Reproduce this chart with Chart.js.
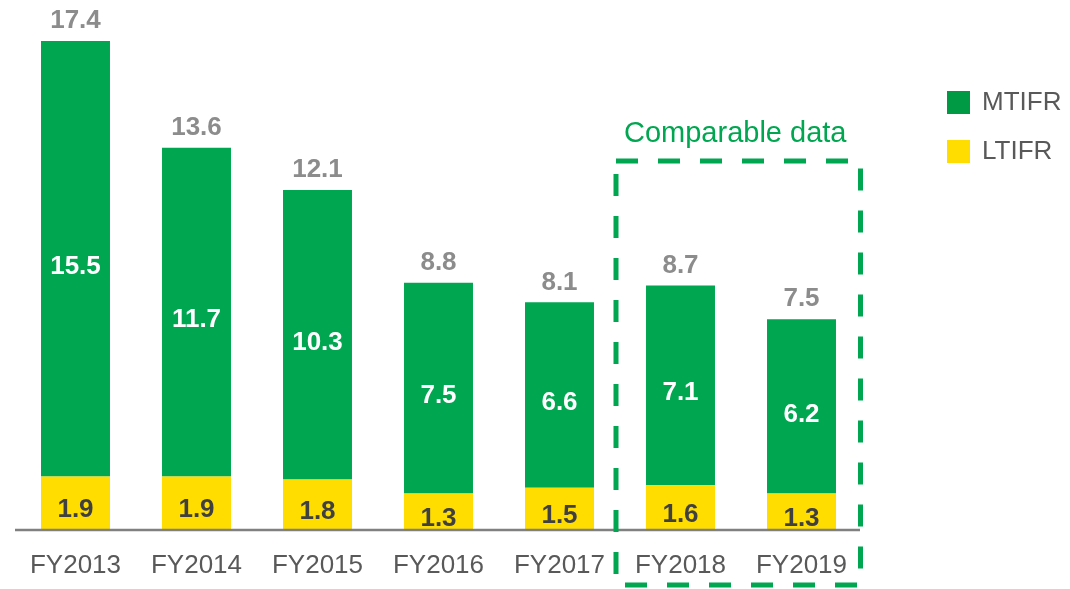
<!DOCTYPE html>
<html>
<head>
<meta charset="utf-8">
<script src="https://cdn.jsdelivr.net/npm/chart.js@4/dist/chart.umd.min.js"></script>
<style>
  html, body { margin: 0; padding: 0; background: #fff; }
  #wrap { width: 1070px; height: 589px; }
</style>
</head>
<body>
<div id="wrap"><canvas id="grafico"></canvas></div>
<script>
// dados do gráfico
const anos = ['FY2013', 'FY2014', 'FY2015', 'FY2016', 'FY2017', 'FY2018', 'FY2019'];
const ltifr = [1.9, 1.9, 1.8, 1.3, 1.5, 1.6, 1.3];
const mtifr = [15.5, 11.7, 10.3, 7.5, 6.6, 7.1, 6.2];
const totais = [17.4, 13.6, 12.1, 8.8, 8.1, 8.7, 7.5];

const verde = '#00A650';
const amarelo = '#FFDD00';
const fonte = '"Liberation Sans", Arial, sans-serif';

// desenha rótulos, eixo, legenda e caixa tracejada
const extras = {
  id: 'extras',
  afterDatasetsDraw(chart) {
    const ctx = chart.ctx;
    const x = chart.scales.x;
    const y = chart.scales.y;
    const area = chart.chartArea;
    ctx.save();

    // linha do eixo
    ctx.strokeStyle = '#808080';
    ctx.lineWidth = 2.5;
    ctx.beginPath();
    ctx.moveTo(area.left, y.getPixelForValue(0));
    ctx.lineTo(area.right - 2, y.getPixelForValue(0));
    ctx.stroke();

    ctx.textAlign = 'center';
    ctx.textBaseline = 'middle';
    anos.forEach((ano, i) => {
      const cx = x.getPixelForValue(i);
      // ltifr
      ctx.font = 'bold 26px ' + fonte;
      ctx.fillStyle = '#404040';
      ctx.fillText(ltifr[i].toFixed(1), cx, y.getPixelForValue(ltifr[i] / 2) + 7);
      // mtifr
      ctx.fillStyle = '#ffffff';
      ctx.fillText(mtifr[i].toFixed(1), cx, y.getPixelForValue(ltifr[i] + mtifr[i] / 2) + 8);
      // total
      ctx.fillStyle = '#8C8C8C';
      ctx.fillText(totais[i].toFixed(1), cx, y.getPixelForValue(totais[i]) - 20);
      // rótulo do eixo
      ctx.font = '26px ' + fonte;
      ctx.fillStyle = '#595959';
      ctx.fillText(ano, cx, 566);
    });

    // caixa tracejada "Comparable data"
    const esq = (x.getPixelForValue(4) + x.getPixelForValue(5)) / 2 - 4;
    const dir = x.getPixelForValue(6) + 59;
    ctx.strokeStyle = verde;
    ctx.lineWidth = 5;
    ctx.setLineDash([22, 20]);
    ctx.strokeRect(esq, 161, dir - esq, 424);
    ctx.setLineDash([]);
    ctx.fillStyle = verde;
    ctx.font = '29px ' + fonte;
    ctx.fillText('Comparable data', (esq + dir) / 2 - 3, 134);

    // legenda
    ctx.textAlign = 'left';
    ctx.font = '26px ' + fonte;
    ctx.fillStyle = '#009A44';
    ctx.fillRect(947, 91, 23, 23);
    ctx.fillStyle = '#595959';
    ctx.fillText('MTIFR', 982, 103);
    ctx.fillStyle = amarelo;
    ctx.fillRect(947, 140, 23, 23);
    ctx.fillStyle = '#595959';
    ctx.fillText('LTIFR', 982, 152);

    ctx.restore();
  }
};

const ctx = document.getElementById('grafico').getContext('2d');
const chart = new Chart(ctx, {
  type: 'bar',
  data: {
    labels: anos,
    datasets: [
      {
        label: 'LTIFR',
        data: ltifr,
        backgroundColor: amarelo,
        barPercentage: 0.57,
        categoryPercentage: 1
      },
      {
        label: 'MTIFR',
        data: mtifr,
        backgroundColor: verde,
        barPercentage: 0.57,
        categoryPercentage: 1
      }
    ]
  },
  options: {
    responsive: true,
    maintainAspectRatio: false,
    animation: false,
    layout: { padding: { left: 15, right: 208, top: 41, bottom: 59 } },
    plugins: {
      legend: { display: false },
      tooltip: { enabled: false }
    },
    scales: {
      x: { stacked: true, display: false },
      y: { stacked: true, display: false, min: 0, max: 17.4 }
    }
  },
  plugins: [extras]
});
</script>
</body>
</html>
